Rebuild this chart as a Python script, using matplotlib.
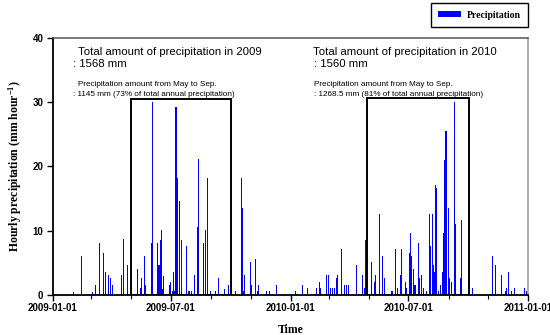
import numpy as np
import pandas as pd
import matplotlib
matplotlib.use("Agg")
import matplotlib.pyplot as plt
import matplotlib.dates as mdates
from matplotlib.patches import Rectangle

plt.rcParams['font.family'] = ['Liberation Sans', 'DejaVu Sans']
plt.rcParams['mathtext.fontset'] = 'custom'
plt.rcParams['mathtext.rm'] = 'Liberation Serif:bold'
plt.rcParams['mathtext.default'] = 'rm'

# daily maximum of hourly precipitation (mm/hour)
dates_2009 = ["2009-02-01", "2009-02-14", "2009-03-03", "2009-03-07", "2009-03-13",
              "2009-03-20", "2009-03-22", "2009-03-27", "2009-03-31", "2009-04-02",
              "2009-04-16", "2009-04-20", "2009-04-25", "2009-05-11", "2009-05-16",
              "2009-05-17", "2009-05-22", "2009-05-23", "2009-06-02", "2009-06-03",
              "2009-06-11", "2009-06-12", "2009-06-13", "2009-06-15", "2009-06-16",
              "2009-06-17", "2009-06-18", "2009-06-20", "2009-06-29", "2009-07-01",
              "2009-07-03", "2009-07-05", "2009-07-07", "2009-07-09", "2009-07-12",
              "2009-07-14", "2009-07-18", "2009-07-25", "2009-07-29", "2009-08-02",
              "2009-08-07", "2009-08-11", "2009-08-13", "2009-08-20", "2009-08-24",
              "2009-08-27", "2009-08-31", "2009-09-08", "2009-09-12", "2009-09-22",
              "2009-09-28", "2009-10-08", "2009-10-17", "2009-10-19", "2009-10-20",
              "2009-10-23", "2009-10-31", "2009-11-02", "2009-11-08", "2009-11-11",
              "2009-11-13", "2009-11-25", "2009-11-29", "2009-12-11"]
values_2009 = [0.5, 6.1, 0.5, 1.6, 8.1,
               6.6, 3.6, 3.1, 2.6, 1.6,
               3.1, 8.7, 4.6, 4.1, 1.1,
               2.6, 6.1, 1.5, 8.1, 30.0,
               8.1, 4.6, 4.6, 7.1, 8.5,
               10.1, 1.0, 3.0, 1.5, 2.0,
               0.6, 3.5, 0.6, 29.2, 18.2,
               14.6, 8.6, 7.6, 0.6, 0.6,
               3.1, 10.6, 21.1, 8.1, 10.1,
               18.2, 0.6, 0.6, 2.6, 1.0,
               1.6, 0.6, 18.2, 13.6, 0.6,
               3.1, 5.1, 1.6, 5.6, 0.6,
               1.6, 0.6, 0.6, 1.6]

dates_2010 = ["2010-01-08", "2010-01-20", "2010-01-27", "2010-02-10", "2010-02-14",
              "2010-02-16", "2010-02-25", "2010-03-01", "2010-03-04", "2010-03-06",
              "2010-03-10", "2010-03-12", "2010-03-14", "2010-03-20", "2010-03-25",
              "2010-03-28", "2010-03-31", "2010-04-13", "2010-04-22", "2010-04-24",
              "2010-04-27", "2010-05-06", "2010-05-10", "2010-05-11", "2010-05-18",
              "2010-05-23", "2010-05-25", "2010-06-06", "2010-06-12", "2010-06-14",
              "2010-06-19", "2010-06-21", "2010-06-26", "2010-06-29", "2010-07-03",
              "2010-07-05", "2010-07-06", "2010-07-09", "2010-07-11", "2010-07-12",
              "2010-07-17", "2010-07-18", "2010-07-22", "2010-07-25", "2010-07-29",
              "2010-08-02", "2010-08-04", "2010-08-07", "2010-08-09", "2010-08-10",
              "2010-08-12", "2010-08-14", "2010-08-16", "2010-08-19", "2010-08-23",
              "2010-08-24", "2010-08-26", "2010-08-28", "2010-08-29", "2010-09-01",
              "2010-09-03", "2010-09-05", "2010-09-10", "2010-09-11", "2010-09-19",
              "2010-09-21", "2010-10-08", "2010-11-07", "2010-11-12", "2010-11-22",
              "2010-11-27", "2010-11-29", "2010-12-02", "2010-12-06", "2010-12-11",
              "2010-12-27", "2010-12-30"]
values_2010 = [0.6, 1.5, 1.1, 1.1, 2.0,
               1.1, 3.1, 3.1, 1.1, 1.1,
               1.1, 2.6, 3.1, 7.1, 1.5,
               1.5, 1.5, 4.6, 3.1, 1.1,
               8.5, 5.1, 2.0, 3.1, 12.6,
               6.0, 2.6, 0.6, 7.1, 1.1,
               3.1, 7.1, 2.0, 1.1, 6.6,
               9.6, 6.0, 4.1, 1.5, 1.5,
               8.1, 2.6, 3.1, 1.1, 0.6,
               12.6, 7.6, 12.6, 4.6, 3.5,
               17.1, 16.6, 0.6, 1.5, 3.5,
               9.6, 21.0, 25.5, 5.1, 13.6,
               2.6, 2.0, 30.0, 11.1, 2.6,
               11.6, 1.1, 6.0, 4.6, 3.1,
               0.6, 1.1, 3.5, 0.6, 1.1,
               1.1, 0.6]

# boxes marking May-Sep
box_periods = [("2009-05-01", "2009-10-01"), ("2010-04-29", "2010-10-02")]
box_tops = [30.4, 30.6]

dates = pd.to_datetime(dates_2009 + dates_2010)
values = values_2009 + values_2010

fig = plt.figure(figsize=(5.5, 3.35), dpi=100)
ax = fig.add_axes([53 / 550, 40 / 335, 475 / 550, 257.3 / 335])

ax.bar(dates, values, width=1.6, color='#0000ff', linewidth=0, label='Precipitation')

for (d0, d1), top in zip(box_periods, box_tops):
    x0 = mdates.date2num(pd.Timestamp(d0))
    x1 = mdates.date2num(pd.Timestamp(d1))
    ax.add_patch(Rectangle((x0, 0), x1 - x0, top, fill=False, edgecolor='black',
                           linewidth=1.4, zorder=3))

ax.set_xlim(pd.Timestamp("2009-01-01"), pd.Timestamp("2011-01-01"))
ax.set_ylim(0, 40)
ax.set_yticks([0, 10, 20, 30, 40])
ax.xaxis.set_major_locator(mdates.MonthLocator(bymonth=[1, 7]))
ax.xaxis.set_minor_locator(mdates.MonthLocator(bymonth=[3, 5, 9, 11]))
ax.xaxis.set_major_formatter(mdates.DateFormatter('%Y-%m-%d'))

ax.tick_params(axis='both', which='major', direction='out', length=4, width=1,
               labelsize=7)
ax.tick_params(axis='x', which='major', pad=2)
ax.tick_params(axis='y', which='major', pad=3)
ax.tick_params(axis='x', which='minor', direction='out', length=3, width=0.8)
for lbl in ax.get_xticklabels() + ax.get_yticklabels():
    lbl.set_fontweight('bold')

ax.spines['left'].set_linewidth(1.3)
ax.spines['bottom'].set_linewidth(1.3)
ax.spines['top'].set_color('#555555')
ax.spines['right'].set_color('#999999')
ax.spines['top'].set_linewidth(1.1)
ax.spines['right'].set_linewidth(1.1)

ax.set_ylabel('Hourly precipitation (mm hour$^{-1}$)', family='Liberation Serif',
              fontweight='bold', fontsize=8.5, labelpad=6)
ax.set_xlabel('Time', family='Liberation Serif', fontweight='bold', fontsize=8.5,
              labelpad=8)

# text annotations
fig.text(78 / 550, 1 - 55 / 335, 'Total amount of precipitation in 2009', fontsize=8.2, va='baseline')
fig.text(73 / 550, 1 - 66.7 / 335, ': 1568 mm', fontsize=8.2, va='baseline')
fig.text(78 / 550, 1 - 86 / 335, 'Precipitation amount from May to Sep.', fontsize=5.9, va='baseline')
fig.text(73 / 550, 1 - 95.7 / 335, ': 1145 mm (73% of total annual precipitation)', fontsize=5.9, va='baseline')

fig.text(313 / 550, 1 - 55 / 335, 'Total amount of precipitation in 2010', fontsize=8.2, va='baseline')
fig.text(313.5 / 550, 1 - 66.7 / 335, ': 1560 mm', fontsize=8.2, va='baseline')
fig.text(314 / 550, 1 - 86 / 335, 'Precipitation amount from May to Sep.', fontsize=5.9, va='baseline')
fig.text(314 / 550, 1 - 95.7 / 335, ': 1268.5 mm (81% of total annual precipitation)', fontsize=5.9, va='baseline')

leg = fig.legend(loc='upper right', bbox_to_anchor=(528 / 550, 1 - 3.3 / 335),
                 prop={'family': 'Liberation Serif', 'weight': 'bold', 'size': 7},
                 frameon=True, fancybox=False, edgecolor='black', framealpha=1,
                 handlelength=2.4, handleheight=0.5, handletextpad=0.55,
                 borderpad=0.75, borderaxespad=0)
leg.get_frame().set_linewidth(1.0)

fig.savefig('out.png', dpi=100)
